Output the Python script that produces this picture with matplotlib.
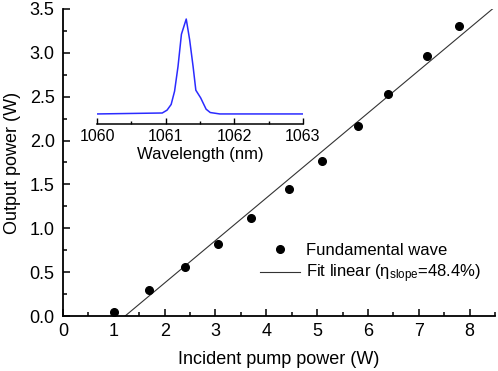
import numpy as np
import matplotlib
matplotlib.use('Agg')
import matplotlib.pyplot as plt
from matplotlib.ticker import MultipleLocator

plt.rcParams['font.family'] = ['Liberation Sans', 'DejaVu Sans']
plt.rcParams['mathtext.fontset'] = 'custom'
plt.rcParams['mathtext.rm'] = 'Liberation Sans'
plt.rcParams['mathtext.it'] = 'Liberation Sans:italic'

# measured output power vs incident pump power
pump_power = [1.00, 1.69, 2.40, 3.05, 3.70, 4.45, 5.10, 5.81, 6.40, 7.17, 7.80]
output_power = [0.05, 0.30, 0.56, 0.82, 1.12, 1.45, 1.77, 2.17, 2.53, 2.96, 3.30]

# linear fit
slope = 0.484
threshold = 1.22

# inset spectrum (normalised intensity)
wavelength = [1060.00, 1060.95, 1061.02, 1061.08, 1061.13, 1061.18, 1061.23, 1061.30,
              1061.35, 1061.40, 1061.44, 1061.51, 1061.59, 1061.65, 1061.79, 1063.00]
intensity = [0.0, 0.01, 0.04, 0.10, 0.24, 0.50, 0.84, 1.00,
             0.78, 0.50, 0.25, 0.17, 0.05, 0.015, 0.0, 0.0]

fig = plt.figure(figsize=(4.98, 3.71), dpi=100)
ax = fig.add_axes([0.1265, 0.148, 0.8675, 0.828])

fit_x = np.array([threshold, 8.5])
ax.plot(fit_x, slope * (fit_x - threshold), color='#333333', linewidth=0.8,
        label=r'Fit linear ($\mathrm{\eta}_{\mathrm{slope}}$=48.4%)', zorder=2)
ax.plot(pump_power, output_power, 'o', color='black', markersize=5.5,
        label='Fundamental wave', zorder=3)

ax.set_xlim(0, 8.5)
ax.set_ylim(0, 3.5)
ax.xaxis.set_major_locator(MultipleLocator(1))
ax.xaxis.set_minor_locator(MultipleLocator(0.5))
ax.yaxis.set_major_locator(MultipleLocator(0.5))
ax.yaxis.set_minor_locator(MultipleLocator(0.25))
ax.yaxis.set_major_formatter(plt.FormatStrFormatter('%.1f'))
ax.tick_params(which='both', direction='in', labelsize=13, width=1.1)
ax.tick_params(which='major', length=5)
ax.tick_params(which='minor', length=3)
ax.tick_params(axis='x', pad=5)
ax.tick_params(axis='y', pad=6)
for side in ['top', 'right']:
    ax.spines[side].set_visible(False)
for side in ['left', 'bottom']:
    ax.spines[side].set_linewidth(1.3)
ax.set_xlabel('Incident pump power (W)', fontsize=13, labelpad=8)
ax.set_ylabel('Output power (W)', fontsize=13, labelpad=6)

handles, labels = ax.get_legend_handles_labels()
ax.legend(handles[::-1], labels[::-1], loc='upper left', bbox_to_anchor=(0.44, 0.26),
          frameon=False, fontsize=12, handlelength=2.4, handletextpad=0.4,
          labelspacing=0.3, borderaxespad=0)

# inset
ins = fig.add_axes([0.195, 0.666, 0.413, 0.307])
ins.plot(wavelength, intensity, color='#2b2bff', linewidth=1.1)
ins.set_xlim(1060, 1063)
ins.set_ylim(-0.105, 1.095)
ins.xaxis.set_major_locator(MultipleLocator(1))
ins.xaxis.set_minor_locator(MultipleLocator(0.5))
ins.set_yticks([])
ins.patch.set_alpha(0)
for side in ['top', 'right', 'left']:
    ins.spines[side].set_visible(False)
ins.spines['bottom'].set_linewidth(1.1)
ins.tick_params(which='both', direction='in', labelsize=11.5, width=1.0)
ins.tick_params(which='major', length=4)
ins.tick_params(which='minor', length=2.5)
ins.set_xlabel('Wavelength (nm)', fontsize=12, labelpad=2)

fig.savefig('out.png', dpi=100)
